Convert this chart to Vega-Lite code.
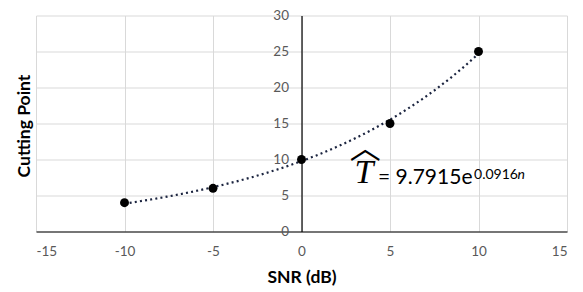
{
  "$schema": "https://vega.github.io/schema/vega-lite/v6.json",
  "width": 531,
  "height": 216,
  "autosize": {"type": "none"},
  "padding": {"left": 36, "top": 15.5, "right": 16, "bottom": 60.5},
  "background": "white",
  "config": {
    "view": {"stroke": null},
    "font": "Lato",
    "axis": {
      "gridColor": "#d9d9d9",
      "gridWidth": 1,
      "domainColor": "#000000",
      "domainWidth": 1.2,
      "ticks": false,
      "labelColor": "#595959",
      "labelFont": "Lato",
      "labelFontSize": 13.5,
      "labelOverlap": false,
      "labelExpr": "'' + datum.value",
      "titleFont": "Lato",
      "titleFontWeight": "bold",
      "titleFontSize": 17.5,
      "titleColor": "#000000"
    }
  },
  "data": {
    "values": [
      {"snr": -10, "cp": 4},
      {"snr": -5, "cp": 6},
      {"snr": 0, "cp": 10},
      {"snr": 5, "cp": 15},
      {"snr": 10, "cp": 25}
    ]
  },
  "layer": [
    {
      "transform": [
        {"regression": "cp", "on": "snr", "method": "exp", "extent": [-10, 10]}
      ],
      "mark": {"type": "line", "color": "#1c2540", "strokeWidth": 2.2, "strokeDash": [2, 3.2], "clip": false},
      "encoding": {
        "x": {
          "field": "snr",
          "type": "quantitative",
          "scale": {"domain": [-15, 15], "nice": false, "zero": false},
          "axis": {"values": [-15, -10, -5, 0, 5, 10, 15], "title": "SNR (dB)", "labelPadding": 13, "titleY": 46, "titleBaseline": "middle"}
        },
        "y": {
          "field": "cp",
          "type": "quantitative",
          "scale": {"domain": [0, 30], "nice": false},
          "axis": {"values": [0, 5, 10, 15, 20, 25, 30], "title": "Cutting Point", "offset": -265.5, "labelPadding": 13, "titleX": -277, "titleY": 110, "titleBaseline": "middle", "titleAlign": "center"}
        }
      }
    },
    {
      "mark": {"type": "circle", "color": "#000000", "opacity": 1, "size": 80},
      "encoding": {
        "x": {"field": "snr", "type": "quantitative", "axis": {"values": [-15, -10, -5, 0, 5, 10, 15], "title": "SNR (dB)", "labelPadding": 13, "titleY": 46, "titleBaseline": "middle"}},
        "y": {"field": "cp", "type": "quantitative", "axis": {"values": [0, 5, 10, 15, 20, 25, 30], "title": "Cutting Point", "offset": -265.5, "labelPadding": 13, "titleX": -277, "titleY": 110, "titleBaseline": "middle", "titleAlign": "center"}}
      }
    },
    {
      "data": {"values": [{}]},
      "mark": {"type": "text", "text": "T", "font": "Liberation Serif", "fontStyle": "italic", "fontSize": 34, "align": "center", "baseline": "alphabetic", "color": "#000000"},
      "encoding": {
        "x": {"datum": 3.53, "type": "quantitative", "axis": {"values": [-15, -10, -5, 0, 5, 10, 15], "title": "SNR (dB)", "labelPadding": 13, "titleY": 46, "titleBaseline": "middle"}},
        "y": {"datum": 6.74, "type": "quantitative", "axis": {"values": [0, 5, 10, 15, 20, 25, 30], "title": "Cutting Point", "offset": -265.5, "labelPadding": 13, "titleX": -277, "titleY": 110, "titleBaseline": "middle", "titleAlign": "center"}}
      }
    },
    {
      "data": {"values": [{}]},
      "mark": {"type": "text", "text": "︿", "font": "Noto Sans CJK SC", "fontSize": 31, "align": "center", "baseline": "middle", "color": "#000000"},
      "encoding": {
        "x": {"datum": 3.6, "type": "quantitative", "axis": {"values": [-15, -10, -5, 0, 5, 10, 15], "title": "SNR (dB)", "labelPadding": 13, "titleY": 46, "titleBaseline": "middle"}},
        "y": {"datum": 11.5, "type": "quantitative", "axis": {"values": [0, 5, 10, 15, 20, 25, 30], "title": "Cutting Point", "offset": -265.5, "labelPadding": 13, "titleX": -277, "titleY": 110, "titleBaseline": "middle", "titleAlign": "center"}}
      }
    },
    {
      "data": {"values": [{}]},
      "mark": {"type": "text", "text": "= 9.7915e", "font": "Lato", "fontSize": 21, "align": "left", "baseline": "alphabetic", "color": "#000000"},
      "encoding": {
        "x": {"datum": 4.32, "type": "quantitative", "axis": {"values": [-15, -10, -5, 0, 5, 10, 15], "title": "SNR (dB)", "labelPadding": 13, "titleY": 46, "titleBaseline": "middle"}},
        "y": {"datum": 6.6, "type": "quantitative", "axis": {"values": [0, 5, 10, 15, 20, 25, 30], "title": "Cutting Point", "offset": -265.5, "labelPadding": 13, "titleX": -277, "titleY": 110, "titleBaseline": "middle", "titleAlign": "center"}}
      }
    },
    {
      "data": {"values": [{}]},
      "mark": {"type": "text", "text": "0.0916", "font": "Lato", "fontSize": 14, "align": "left", "baseline": "alphabetic", "color": "#000000"},
      "encoding": {
        "x": {"datum": 9.75, "type": "quantitative", "axis": {"values": [-15, -10, -5, 0, 5, 10, 15], "title": "SNR (dB)", "labelPadding": 13, "titleY": 46, "titleBaseline": "middle"}},
        "y": {"datum": 7.29, "type": "quantitative", "axis": {"values": [0, 5, 10, 15, 20, 25, 30], "title": "Cutting Point", "offset": -265.5, "labelPadding": 13, "titleX": -277, "titleY": 110, "titleBaseline": "middle", "titleAlign": "center"}}
      }
    },
    {
      "data": {"values": [{}]},
      "mark": {"type": "text", "text": "n", "font": "Lato", "fontStyle": "italic", "fontSize": 14, "align": "left", "baseline": "alphabetic", "color": "#000000"},
      "encoding": {
        "x": {"datum": 12.2, "type": "quantitative", "axis": {"values": [-15, -10, -5, 0, 5, 10, 15], "title": "SNR (dB)", "labelPadding": 13, "titleY": 46, "titleBaseline": "middle"}},
        "y": {"datum": 7.29, "type": "quantitative", "axis": {"values": [0, 5, 10, 15, 20, 25, 30], "title": "Cutting Point", "offset": -265.5, "labelPadding": 13, "titleX": -277, "titleY": 110, "titleBaseline": "middle", "titleAlign": "center"}}
      }
    }
  ]
}
